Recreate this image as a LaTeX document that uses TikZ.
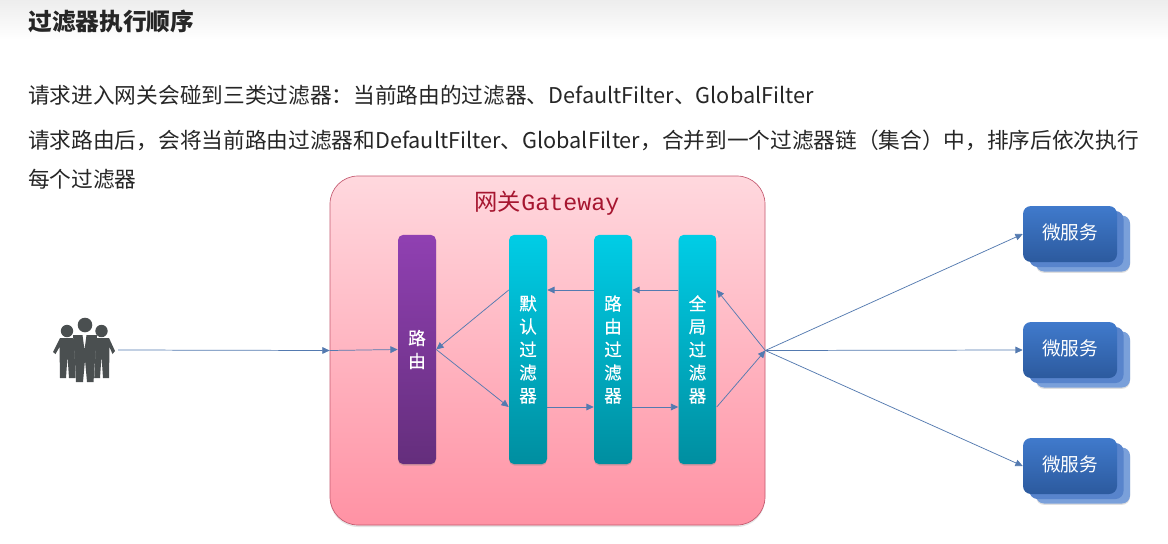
\documentclass[tikz,border=0pt]{standalone}
\usepackage{fontspec}
\setmainfont{Noto Sans CJK SC}
\newfontfamily\monofnt{Liberation Mono}
\newfontfamily\barfnt[FakeBold=0.35]{Noto Sans CJK SC}
\usetikzlibrary{arrows.meta,shadows}
\definecolor{linkblue}{RGB}{84,122,176}
\definecolor{iconc}{RGB}{74,79,80}
\tikzset{
  bodytext/.style={anchor=west,inner sep=0pt,text=black!85,font=\fontsize{16.26pt}{20pt}\selectfont},
  gatebox/.style={draw={rgb,255:red,196;green,90;blue,112},line width=0.5pt,rounded corners=21pt,top color={rgb,255:red,255;green,216;blue,222},bottom color={rgb,255:red,255;green,146;blue,164},minimum width=326.25pt,minimum height=261.75pt,drop shadow={opacity=0.2,shadow xshift=0pt,shadow yshift=-1.5pt}},
  bar/.style={rounded corners=4pt,minimum width=28.5pt,minimum height=172pt,inner sep=0pt,align=center,text=white,font=\fontsize{13.2pt}{17.25pt}\selectfont\barfnt,drop shadow={opacity=0.35,shadow xshift=0pt,shadow yshift=-1pt}},
  routebar/.style={bar,top color={rgb,255:red,144;green,64;blue,178},bottom color={rgb,255:red,100;green,46;blue,124}},
  filterbar/.style={bar,top color={rgb,255:red,0;green,205;blue,230},bottom color={rgb,255:red,0;green,142;blue,160}},
  svcfront/.style={rounded corners=6pt,minimum width=70.5pt,minimum height=42pt,inner sep=0pt,text=white,font=\fontsize{14pt}{16pt}\selectfont,top color={rgb,255:red,64;green,122;blue,204},bottom color={rgb,255:red,44;green,90;blue,158}},
  svcback/.style={rounded corners=6pt,minimum width=70.5pt,minimum height=42pt,fill={rgb,255:red,122;green,160;blue,218}},
  link/.style={draw=linkblue,line width=0.55pt,-{Triangle[length=5.5pt,width=5pt,fill=linkblue]}}
}
\begin{document}
\begin{tikzpicture}[x=0.75pt,y=0.75pt,yscale=-1,xscale=1]
\useasboundingbox (0,0) rectangle (1168,543);
\fill[white] (0,0) rectangle (1168,543);
\shade[top color=black!7,bottom color=white] (0,0) rectangle (1168,40);
% text
\node[anchor=west,inner sep=0pt,text=black!85,font=\fontsize{17.8pt}{20pt}\selectfont\bfseries] (title) at (28,22) {过滤器执行顺序};
\node[bodytext] (line1) at (28,95) {请求进入网关会碰到三类过滤器：当前路由的过滤器、DefaultFilter、GlobalFilter};
\node[bodytext] (line2) at (28,140) {请求路由后，会将当前路由过滤器和DefaultFilter、GlobalFilter，合并到一个过滤器链（集合）中，排序后依次执行};
\node[bodytext] (line3) at (28,179) {每个过滤器};
% gateway
\node[gatebox] (gw) at (547.5,350.5) {};
\node[inner sep=0pt,text={rgb,255:red,166;green,22;blue,48},font=\fontsize{17.5pt}{20pt}\selectfont] (gwname) at (547,203) {网关{\monofnt Gateway}};
\node[routebar] (rf) at (417,349.5) {路\\由};
\node[filterbar] (dft) at (528,349.5) {默\\认\\过\\滤\\器};
\node[filterbar] (cur) at (613,349.5) {路\\由\\过\\滤\\器};
\node[filterbar] (glb) at (697.5,349.5) {全\\局\\过\\滤\\器};
\coordinate (hi) at (0,290);
\coordinate (lo) at (0,407);
% services
\foreach \i/\yy in {1/234,2/350,3/466}{
  \node[svcback,drop shadow={opacity=0.25,shadow xshift=0pt,shadow yshift=-1pt}] at (1083,\yy+9.5) {};
  \node[svcback,fill={rgb,255:red,88;green,132;blue,204}] at (1076.5,\yy+5) {};
  \node[svcfront,text height=11pt,text depth=3pt] (svc\i) at (1070,\yy) {微服务};
}
% users
\fill[iconc] (85,325) circle (7.3);
\fill[iconc] (67,331) circle (6.2);
\fill[iconc] (101.5,331) circle (6.2);
\fill[iconc] (60,338) -- (73,338) -- (76,342) -- (75.5,378) -- (69,378) -- (67.5,356) -- (66,378) -- (60,378) -- (59.5,347) -- (55.5,354) -- (53,352) -- cycle;
\fill[iconc] (109,338) -- (96,338) -- (93,342) -- (93.5,378) -- (100,378) -- (101.5,356) -- (103,378) -- (109,378) -- (109.5,347) -- (112.5,354) -- (115,351) -- cycle;
\fill[white] (74,336) -- (96,336) -- (94,382) -- (76,382) -- cycle;
\fill[iconc] (73,335) -- (82.5,335) -- (84.5,350) -- (86.5,335) -- (97,335) -- (95,360) -- (93.5,382) -- (87,382) -- (85,360) -- (83,382) -- (76,382) -- (75,360) -- cycle;
\coordinate (usr) at (118,350);
% arrows
\draw[link] (usr) -- (gw.west);
\draw[link] (gw.west) -- (rf.west);
\draw[link] (rf.east) -- (dft.west |- lo);
\draw[link] (dft.east |- lo) -- (cur.west |- lo);
\draw[link] (cur.east |- lo) -- (glb.west |- lo);
\draw[link] (glb.east |- lo) -- (gw.east);
\draw[link] (gw.east) -- (glb.east |- hi);
\draw[link] (glb.west |- hi) -- (cur.east |- hi);
\draw[link] (cur.west |- hi) -- (dft.east |- hi);
\draw[link] (dft.west |- hi) -- (rf.east);
\foreach \i in {1,2,3}{
  \draw[link] (gw.east) -- (svc\i.west);
}
\end{tikzpicture}
\end{document}
